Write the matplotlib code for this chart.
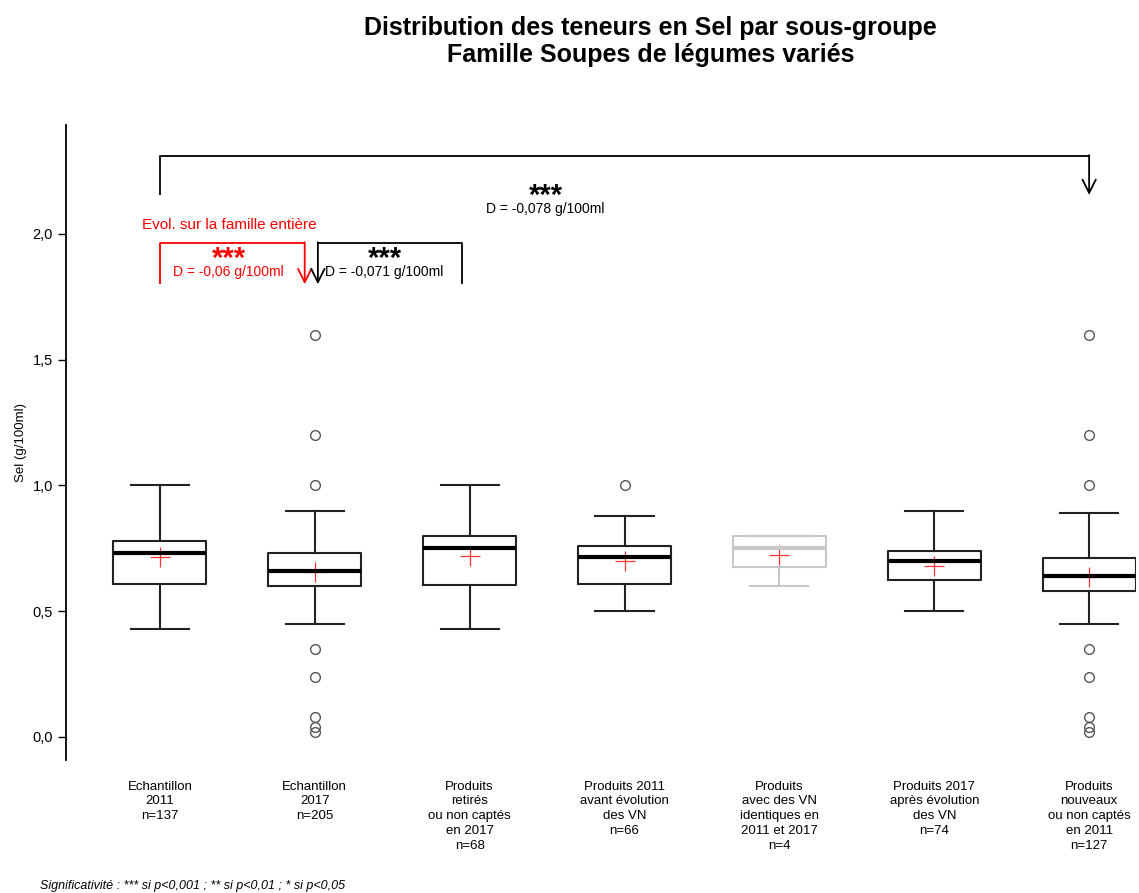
import matplotlib as mpl
import matplotlib.pyplot as plt

mpl.rcParams["font.family"] = ["Liberation Sans", "DejaVu Sans"]

# DATA
groups = [
    "Echantillon\n2011\nn=137",
    "Echantillon\n2017\nn=205",
    "Produits\nretirés\nou non captés\nen 2017\nn=68",
    "Produits 2011\navant évolution\ndes VN\nn=66",
    "Produits\navec des VN\nidentiques en\n2011 et 2017\nn=4",
    "Produits 2017\naprès évolution\ndes VN\nn=74",
    "Produits\nnouveaux\nou non captés\nen 2011\nn=127",
]
whislo = [0.43, 0.45, 0.43, 0.50, 0.60, 0.50, 0.45]
q1 = [0.61, 0.60, 0.605, 0.61, 0.675, 0.625, 0.58]
med = [0.73, 0.66, 0.75, 0.715, 0.75, 0.70, 0.64]
q3 = [0.78, 0.73, 0.80, 0.76, 0.80, 0.74, 0.71]
whishi = [1.00, 0.90, 1.00, 0.88, 0.80, 0.90, 0.89]
means = [0.715, 0.655, 0.72, 0.70, 0.725, 0.68, 0.635]
fliers = [
    [],
    [1.6, 1.2, 1.0, 0.35, 0.24, 0.08, 0.04, 0.02],
    [],
    [1.0],
    [],
    [],
    [1.6, 1.2, 1.0, 0.35, 0.24, 0.08, 0.04, 0.02],
]
greyed = [False, False, False, False, True, False, False]

yticks = [0.0, 0.5, 1.0, 1.5, 2.0]
ytick_labels = ["0,0", "0,5", "1,0", "1,5", "2,0"]


def bracket(ax, x0, x1, ylow, yhigh, color, arrow_at):
    # bracket: vertical leg, horizontal bar, vertical leg ending with an arrow
    xs = x0 if arrow_at == x1 else x1
    ax.plot([xs, xs, arrow_at], [ylow, yhigh, yhigh], color=color, lw=1.3,
            solid_capstyle="butt", clip_on=False)
    ax.annotate("", xy=(arrow_at, ylow), xytext=(arrow_at, yhigh + 0.003),
                arrowprops=dict(arrowstyle="->", color=color, lw=1.3,
                                mutation_scale=24, shrinkA=0, shrinkB=0),
                annotation_clip=False)


def stars_and_diff(ax, x, y, diff, color):
    # diff text centred at y, stars sitting just above it
    ax.text(x, y, diff, color=color, ha="center", va="center", fontsize=10)
    ax.text(x, y - 0.005, "***", color=color, ha="center", va="bottom",
            fontsize=21, fontweight="bold")


def main():
    fig = plt.figure(figsize=(11.39, 8.93), dpi=100)
    ax = fig.add_axes([0.058, 0.149, 0.939, 0.711])

    pos = list(range(1, len(groups) + 1))
    stats = []
    for i in range(len(groups)):
        stats.append(dict(whislo=whislo[i], q1=q1[i], med=med[i], q3=q3[i],
                          whishi=whishi[i], fliers=fliers[i]))

    for i, st in enumerate(stats):
        c = "#c8c8c8" if greyed[i] else "#222222"
        mc = "#c8c8c8" if greyed[i] else "black"
        ax.bxp([st], positions=[pos[i]], widths=0.6, capwidths=0.375,
               showfliers=True,
               boxprops=dict(color=c, lw=1.5),
               whiskerprops=dict(color=c, lw=1.5),
               capprops=dict(color=c, lw=1.5),
               medianprops=dict(color=mc, lw=3),
               flierprops=dict(marker="o", markersize=7, markerfacecolor="none",
                               markeredgecolor="#555555", markeredgewidth=1))
        ax.plot(pos[i], means[i], marker="+", color="red", markersize=15,
                markeredgewidth=0.9, alpha=0.8)

    ax.set_xlim(0.394, 7.3)
    ax.set_ylim(-0.0915, 2.433)
    ax.set_yticks(yticks)
    ax.set_yticklabels(ytick_labels, fontsize=10.5)
    ax.set_xticks(pos)
    ax.set_xticklabels(groups, fontsize=9.5, linespacing=1.3, va="top")
    ax.tick_params(axis="x", length=0, pad=15)
    ax.tick_params(axis="y", length=6, width=1, direction="out")
    for s in ["top", "right", "bottom"]:
        ax.spines[s].set_visible(False)
    ax.spines["left"].set_linewidth(1.3)
    ax.set_ylabel("Sel (g/100ml)", fontsize=9.5, labelpad=4)

    # annotations: whole family
    bracket(ax, pos[0], pos[6], 2.155, 2.31, "black", pos[6])
    stars_and_diff(ax, 3.49, 2.10, "D = -0,078 g/100ml", "black")

    # 2011 vs 2017
    bracket(ax, pos[0], pos[1] - 0.065, 1.80, 1.964, "red", pos[1] - 0.065)
    ax.text(1.45, 2.035, "Evol. sur la famille entière", color="red",
            ha="center", va="center", fontsize=11)
    stars_and_diff(ax, 1.445, 1.848, "D = -0,06 g/100ml", "red")

    # retired vs new
    bracket(ax, pos[1] + 0.02, pos[2] - 0.05, 1.80, 1.964, "black", pos[1] + 0.02)
    stars_and_diff(ax, 2.45, 1.848, "D = -0,071 g/100ml", "black")

    fig.text(0.571, 0.982, "Distribution des teneurs en Sel par sous-groupe\n"
             "Famille Soupes de légumes variés", ha="center", va="top",
             fontsize=18, fontweight="bold", linespacing=1.18)
    fig.text(0.035, 0.005, "Significativité : *** si p<0,001 ; ** si p<0,01 ; * si p<0,05",
             fontsize=9, style="italic")

    fig.savefig("out.png", dpi=100)


if __name__ == "__main__":
    main()
